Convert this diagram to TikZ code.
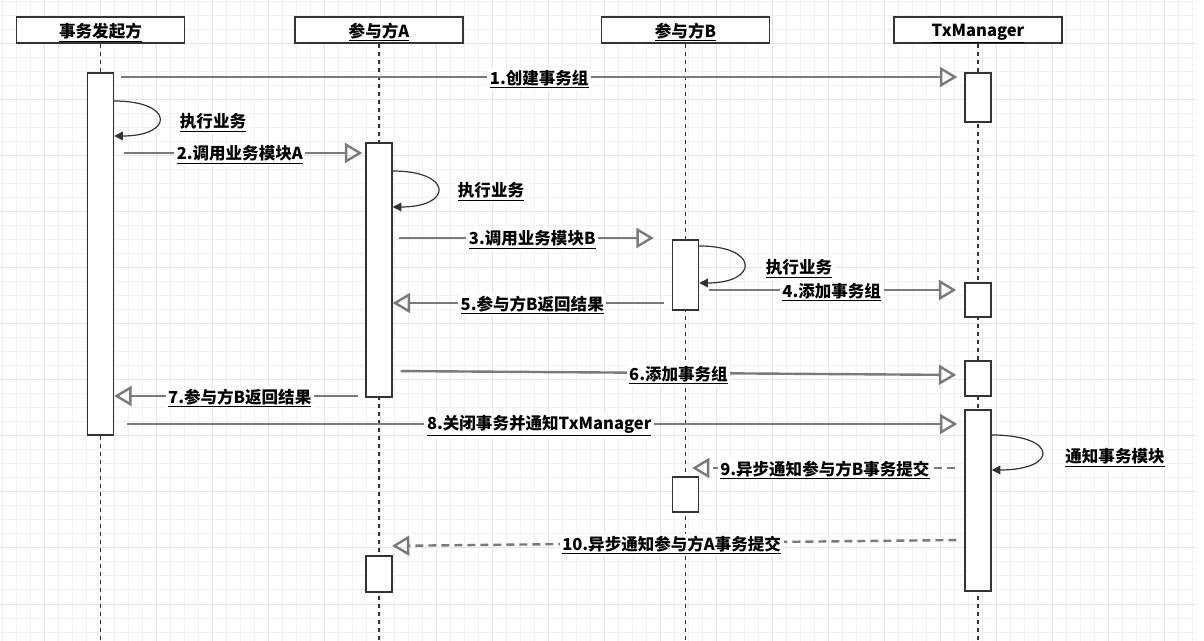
\documentclass[tikz,border=0pt]{standalone}
\usepackage{fontspec}
\setmainfont{Noto Sans CJK SC}
\usetikzlibrary{arrows.meta}
\pgfdeclarelayer{gridlayer}
\pgfdeclarelayer{edgelayer}
\pgfdeclarelayer{nodelayer}
\pgfsetlayers{gridlayer,edgelayer,nodelayer,main}
\definecolor{msggray}{HTML}{7A7A7A}
\definecolor{boxgray}{HTML}{333333}
\definecolor{minorline}{HTML}{F2F2F6}
\definecolor{majorline}{HTML}{E4E4EB}
\newcommand{\ulbox}[1]{\vtop{\hbox{#1}\kern1.1pt\hrule height 0.85pt}}
\tikzset{x=0.75pt,y=-0.75pt,font=\fontsize{12.4}{14}\selectfont\bfseries}
\tikzstyle{head}=[draw=boxgray,fill=white,line width=1.1pt,minimum width=126pt,minimum height=19.5pt,inner sep=0pt,text depth=0pt]
\tikzstyle{act}=[draw=boxgray,fill=white,line width=1.1pt,minimum width=19.5pt,inner sep=0pt]
\tikzstyle{life}=[draw=boxgray,line width=0.8pt,dash pattern=on 3.5pt off 2.5pt]
\tikzstyle{msg}=[draw=msggray,line width=1.8pt,-{Triangle[open,length=13pt,width=15pt]}]
\tikzstyle{async}=[msg,dash pattern=on 6pt off 3.75pt]
\tikzstyle{selfcall}=[draw=boxgray,line width=0.9pt,-{Triangle[length=6.5pt,width=6.5pt]}]
\tikzstyle{lbl}=[fill=white,inner xsep=2pt,inner ysep=1pt,text=black,yshift=-1.5pt]
\tikzstyle{minorgrid}=[draw=minorline,line width=0.75pt]
\tikzstyle{majorgrid}=[draw=majorline,line width=0.75pt]

\begin{document}
\begin{tikzpicture}
	\useasboundingbox (0,0) rectangle (1204,641);
	\begin{pgfonlayer}{gridlayer}
		\foreach \gx in {2,16,...,1196} \draw [style=minorgrid] (\gx,0) -- (\gx,641);
		\foreach \gy in {2,16,...,641} \draw [style=minorgrid] (0,\gy) -- (1196,\gy);
		\foreach \gx in {44,100,...,1196} \draw [style=majorgrid] (\gx,0) -- (\gx,641);
		\foreach \gy in {44,100,...,641} \draw [style=majorgrid] (0,\gy) -- (1196,\gy);
	\end{pgfonlayer}
	\begin{pgfonlayer}{nodelayer}
		% lanes
		\node [style=head] (init) at (100.5, 30) {\ulbox{事务发起方}};
		\node [style=head] (pa) at (379, 30) {\ulbox{参与方A}};
		\node [style=head] (pb) at (685.5, 30) {\ulbox{参与方B}};
		\node [style=head] (tx) at (978, 30) {\ulbox{TxManager}};
		% activations
		\node [style=act, minimum height=271.5pt] (ai) at (100.5, 254) {};
		\node [style=act, minimum height=190.5pt] (aa1) at (379, 270) {};
		\node [style=act, minimum height=27pt] (aa2) at (379, 574) {};
		\node [style=act, minimum height=52.5pt] (ab1) at (685.5, 275) {};
		\node [style=act, minimum height=26.25pt] (ab2) at (685.5, 494.5) {};
		\node [style=act, minimum height=36.75pt] (at1) at (978, 97.5) {};
		\node [style=act, minimum height=25.5pt] (at2) at (978, 300) {};
		\node [style=act, minimum height=26.25pt] (at3) at (978, 378.5) {};
		\node [style=act, minimum height=135.75pt] (at4) at (978, 500.5) {};
		% self call labels
		\node [style=lbl] (busi1) at (213, 121) {\ulbox{执行业务}};
		\node [style=lbl] (busi2) at (491, 190) {\ulbox{执行业务}};
		\node [style=lbl] (busi3) at (799, 267) {\ulbox{执行业务}};
		\node [style=lbl] (notify) at (1115, 456) {\ulbox{通知事务模块}};
	\end{pgfonlayer}
	\coordinate (initend) at (100.5, 641);
	\coordinate (paend) at (379, 641);
	\coordinate (pbend) at (685.5, 641);
	\coordinate (txend) at (978, 641);
	\coordinate (y1) at (0, 77);
	\coordinate (y2) at (0, 153);
	\coordinate (y3) at (0, 238);
	\coordinate (y4) at (0, 290);
	\coordinate (y5) at (0, 303);
	\coordinate (y6a) at (0, 371);
	\coordinate (y6b) at (0, 375);
	\coordinate (y7) at (0, 396);
	\coordinate (y8) at (0, 424);
	\coordinate (y9) at (0, 468);
	\coordinate (y10a) at (0, 540);
	\coordinate (y10b) at (0, 546);
	\coordinate (s1a) at (0, 101);
	\coordinate (s1b) at (0, 136);
	\coordinate (s2a) at (0, 171);
	\coordinate (s2b) at (0, 207);
	\coordinate (s3a) at (0, 246);
	\coordinate (s3b) at (0, 283);
	\coordinate (s4a) at (0, 435);
	\coordinate (s4b) at (0, 470);
	\begin{pgfonlayer}{edgelayer}
		\draw [style=life] (init.south) to (initend);
		\draw [style=life] (pa.south) to (paend);
		\draw [style=life] (pb.south) to (pbend);
		\draw [style=life] (tx.south) to (txend);
	\end{pgfonlayer}
	% messages
	\draw [style=msg, shorten <=5.25pt, shorten >=5.25pt] (ai.east |- y1) to node [style=lbl] {\ulbox{1.创建事务组}} (at1.west |- y1);
	\draw [style=msg, shorten <=7.5pt, shorten >=2.25pt] (ai.east |- y2) to node [style=lbl] {\ulbox{2.调用业务模块A}} (aa1.west |- y2);
	\draw [style=msg, shorten <=4.5pt, shorten >=13.5pt] (aa1.east |- y3) to node [style=lbl] {\ulbox{3.调用业务模块B}} (ab1.west |- y3);
	\draw [style=msg, shorten <=7.5pt, shorten >=6pt] (ab1.east |- y4) to node [style=lbl] {\ulbox{4.添加事务组}} (at2.west |- y4);
	\draw [style=msg, shorten <=6pt, shorten >=0pt] (ab1.west |- y5) to node [style=lbl] {\ulbox{5.参与方B返回结果}} (aa1.east |- y5);
	\draw [style=msg, shorten <=6pt, shorten >=6pt] (aa1.east |- y6a) to node [style=lbl] {\ulbox{6.添加事务组}} (at3.west |- y6b);
	\draw [style=msg, shorten <=5.25pt, shorten >=0pt] (aa1.west |- y7) to node [style=lbl] {\ulbox{7.参与方B返回结果}} (ai.east |- y7);
	\draw [style=msg, shorten <=9.75pt, shorten >=5.25pt] (ai.east |- y8) to node [style=lbl] {\ulbox{8.关闭事务并通知TxManager}} (at4.west |- y8);
	\draw [style=async, shorten <=6.75pt, shorten >=4.9pt] (at4.west |- y9) to node [style=lbl] {\ulbox{9.异步通知参与方B事务提交}} (pb |- y9);
	\draw [style=async, shorten <=6pt, shorten >=9.75pt] (at4.west |- y10a) to node [style=lbl] {\ulbox{10.异步通知参与方A事务提交}} (pa |- y10b);
	% self calls
	\draw [style=selfcall] [in=0, out=0, looseness=4.4] (ai.east |- s1a) to (ai.east |- s1b);
	\draw [style=selfcall] [in=0, out=0, looseness=4.3] (aa1.east |- s2a) to (aa1.east |- s2b);
	\draw [style=selfcall] [in=0, out=0, looseness=4.15] (ab1.east |- s3a) to (ab1.east |- s3b);
	\draw [style=selfcall] [in=0, out=0, looseness=4.9] (at4.east |- s4a) to (at4.east |- s4b);
\end{tikzpicture}
\end{document}
